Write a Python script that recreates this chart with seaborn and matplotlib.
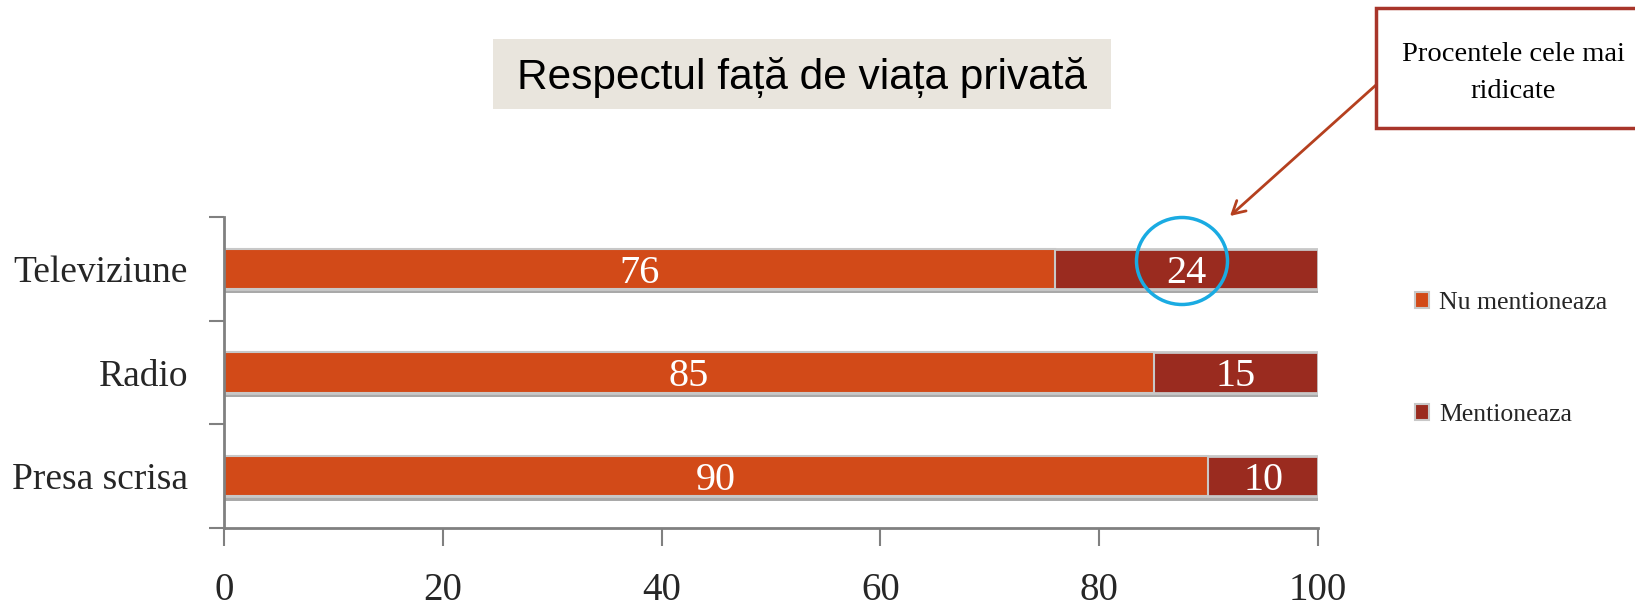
import matplotlib
matplotlib.use("Agg")
import matplotlib.pyplot as plt
import matplotlib.patheffects as pe
from matplotlib.patches import Rectangle, Ellipse
from matplotlib.ticker import FixedLocator
import seaborn as sns
import pandas as pd

categories = ["Televiziune", "Radio", "Presa scrisa"]
nu_mentioneaza = [76, 85, 90]
mentioneaza = [24, 15, 10]
xticks = [0, 20, 40, 60, 80, 100]
title = "Respectul față de viața privată"
note = "Procentele cele mai\nridicate"

c_nu = "#D24A18"
c_da = "#9A2B1F"

sns.set_style("white")
plt.rcParams["font.family"] = ["Liberation Serif", "DejaVu Serif"]

df = pd.DataFrame({"cat": categories, "nu": nu_mentioneaza, "da": mentioneaza})
df["total"] = df["nu"] + df["da"]

fig = plt.figure(figsize=(16.35, 6.13), dpi=100)
ax = fig.add_axes([0.137, 0.1387, 0.669, 0.5073])

shadow = [pe.SimplePatchShadow(offset=(0, -3), shadow_rgbFace="#707070", alpha=0.6), pe.Normal()]
sns.barplot(data=df, x="total", y="cat", color=c_da, saturation=1, width=0.39,
            edgecolor="#C8C8C8", linewidth=2, ax=ax, orient="h")
for p in ax.patches:
    p.set_path_effects(shadow)
sns.barplot(data=df, x="nu", y="cat", color=c_nu, saturation=1, width=0.39,
            edgecolor="#C8C8C8", linewidth=1.5, ax=ax, orient="h")

for i, (a, b) in enumerate(zip(nu_mentioneaza, mentioneaza)):
    ax.text(a / 2, i, str(a), ha="center", va="center_baseline", color="white", fontsize=29)
    ax.text(a + b / 2, i, str(b), ha="center", va="center_baseline", color="white", fontsize=29)

ax.set_xlim(0, 100)
ax.set_ylim(2.5, -0.5)
ax.set_xlabel("")
ax.set_ylabel("")
ax.set_xticks(xticks)
ax.set_xticklabels([str(v) for v in xticks], fontsize=28)
ax.tick_params(axis="x", bottom=True, length=13, width=1.5, color="#808080", pad=19, direction="out")
ax.tick_params(axis="y", which="major", left=False, length=0, pad=26, labelsize=27)
ax.yaxis.set_minor_locator(FixedLocator([-0.5, 0.5, 1.5, 2.5]))
ax.tick_params(axis="y", which="minor", left=True, length=11, width=1.5, color="#808080", direction="out")
for s in ["top", "right"]:
    ax.spines[s].set_visible(False)
for s in ["left", "bottom"]:
    ax.spines[s].set_color("#808080")
    ax.spines[s].set_linewidth(2)

# Legend
h1 = Rectangle((0, 0), 1, 1, facecolor=c_nu, edgecolor="#C8C8C8", linewidth=1.5)
h2 = Rectangle((0, 0), 1, 1, facecolor=c_da, edgecolor="#C8C8C8", linewidth=1.5)
fig.legend([h1, h2], ["Nu mentioneaza", "Mentioneaza"], loc="upper left",
           bbox_to_anchor=(0.859, 0.54), frameon=False, fontsize=18.5,
           handlelength=0.55, handleheight=0.55, handletextpad=0.4, labelspacing=3.5,
           borderaxespad=0)

# Title box
fig.patches.append(Rectangle((493 / 1635, 1 - 109 / 613), 618 / 1635, 70 / 613,
                             transform=fig.transFigure, facecolor="#E9E5DD", edgecolor="none"))
fig.text(802 / 1635, 1 - 77 / 613, title, ha="center", va="center", fontsize=30.5,
         family=["Liberation Sans", "DejaVu Sans"], color="black")

# Annotation box
fig.patches.append(Rectangle((1376 / 1635, 1 - 128 / 613), 300 / 1635, 120 / 613,
                             transform=fig.transFigure, facecolor="white",
                             edgecolor="#A8352A", linewidth=2.5, clip_on=False))
fig.text(1513 / 1635, 1 - 73 / 613, note, ha="center", va="center", fontsize=20.5,
         linespacing=1.6, color="black")
ax.annotate("", xy=(1230 / 1635, 1 - 216 / 613), xycoords="figure fraction",
            xytext=(1376 / 1635, 1 - 85 / 613), textcoords="figure fraction",
            arrowprops=dict(arrowstyle="->,head_length=0.9,head_width=0.5",
                            color="#B5401F", lw=2, shrinkA=0, shrinkB=0))

# Circle highlight
fig.patches.append(Ellipse((1182 / 1635, 1 - 261 / 613), 91 / 1635, 87 / 613,
                           transform=fig.transFigure, facecolor="none",
                           edgecolor="#1AABE2", linewidth=2.5))

fig.savefig("out.png", dpi=100)
